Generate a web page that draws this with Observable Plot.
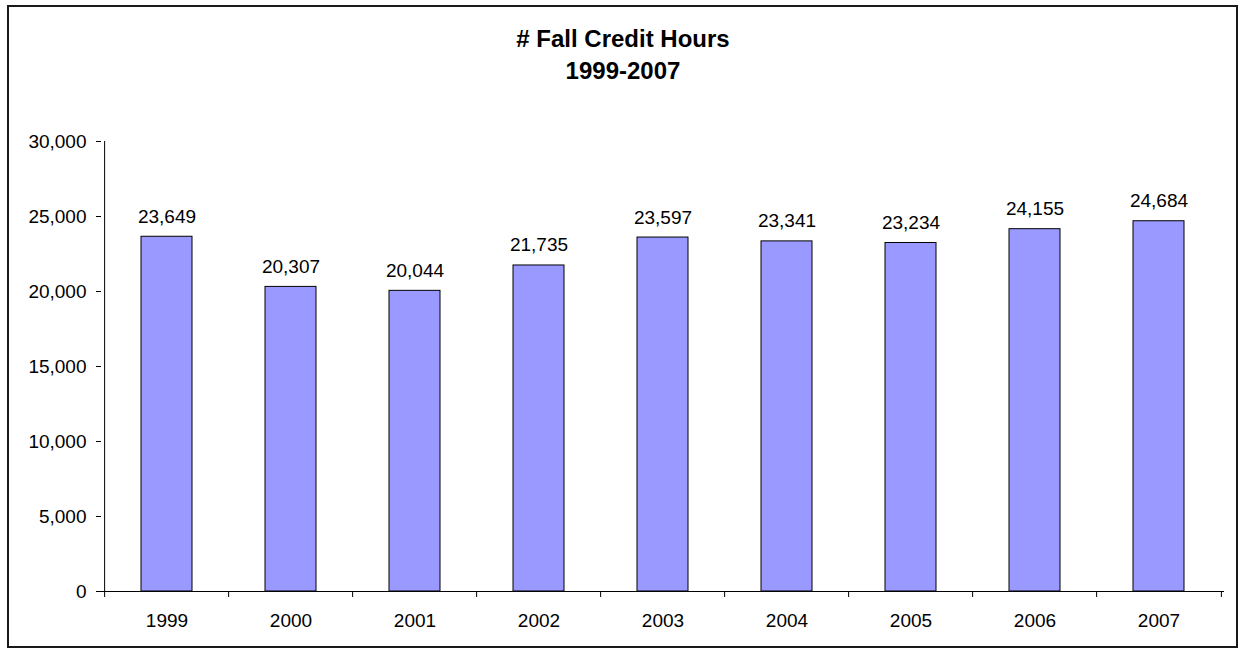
<!DOCTYPE html>
<html>
<head>
<meta charset="utf-8">
<script src="https://cdn.jsdelivr.net/npm/d3@7"></script>
<script src="https://cdn.jsdelivr.net/npm/@observablehq/plot@0.6"></script>
<style>
  html, body { margin: 0; padding: 0; background: #fff; }
  #wrap { position: relative; width: 1238px; height: 648px; overflow: hidden; font-family: "Liberation Sans", Arial, sans-serif; }
  #chart { position: absolute; left: 0; top: 0; }
  #frame { position: absolute; left: 7px; top: 5px; width: 1231px; height: 643px; box-sizing: border-box; border: 2px solid #1a1a1a; pointer-events: none; }
  #title { position: absolute; left: 8px; top: 23px; width: 1230px; text-align: center; font-weight: bold; font-size: 24px; line-height: 32px; color: #000; }
</style>
</head>
<body>
<div id="wrap">
  <div id="chart"></div>
  <div id="frame"></div>
  <div id="title"># Fall Credit Hours<br>1999-2007</div>
</div>
<script>
const years = ["1999", "2000", "2001", "2002", "2003", "2004", "2005", "2006", "2007"];
const hours = [23649, 20307, 20044, 21735, 23597, 23341, 23234, 24155, 24684];
const yTicks = [0, 5000, 10000, 15000, 20000, 25000, 30000];

const data = years.map((y, i) => ({year: y, value: hours[i]}));

const width = 1238, height = 648;
const marginLeft = 101, marginRight = 14, marginTop = 141, marginBottom = 57;
const step = (width - marginLeft - marginRight) / years.length;
const fmt = d3.format(",");

const plot = Plot.plot({
  width, height, marginLeft, marginRight, marginTop, marginBottom,
  style: {fontFamily: "'Liberation Sans', Arial, sans-serif", fontSize: "19px", color: "#000", background: "transparent", overflow: "visible"},
  x: {domain: years, paddingInner: 0.59, paddingOuter: 0.295, align: 0.5, label: null},
  y: {domain: [0, 30000], label: null},
  marks: [
    Plot.barY(data, {x: "year", y: "value", fill: "#9999ff", stroke: "#000", strokeWidth: 1}),
    Plot.text(data, {x: "year", y: "value", text: d => fmt(d.value), lineAnchor: "bottom", dy: -14, fontSize: 19, fill: "#000"}),
    // axis lines
    Plot.ruleY([0], {stroke: "#000", strokeWidth: 1}),
    Plot.ruleX([years[0]], {x: d => d, y1: 0, y2: 30000, dx: -step / 2, stroke: "#000", strokeWidth: 1}),
    // category boundary ticks
    Plot.ruleX(years, {x: d => d, y1: 0, y2: -400, dx: -step / 2, stroke: "#000", strokeWidth: 1}),
    Plot.ruleX([years[years.length - 1]], {x: d => d, y1: 0, y2: -400, dx: step / 2, stroke: "#000", strokeWidth: 1}),
    Plot.axisY({ticks: yTicks, tickFormat: fmt, tickSize: 5, tickPadding: 10, fontSize: 19, label: null, stroke: "#000"}),
    Plot.axisX({tickSize: 0, tickPadding: 22, fontSize: 19, label: null})
  ]
});
document.getElementById("chart").appendChild(plot);
</script>
</body>
</html>
